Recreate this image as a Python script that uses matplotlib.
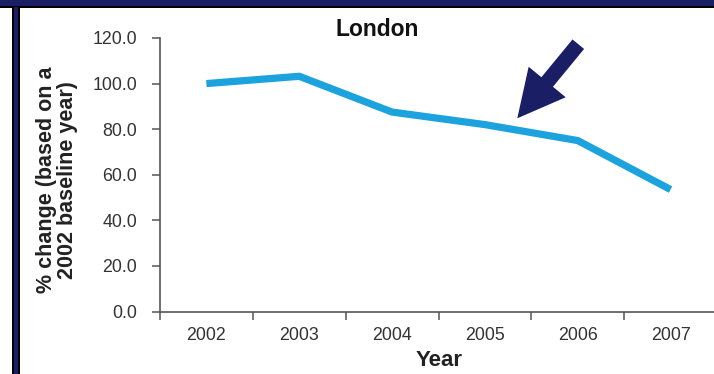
import matplotlib.pyplot as plt
from matplotlib.patches import Rectangle, FancyArrow
from matplotlib.transforms import IdentityTransform
import numpy as np

years = ['2002', '2003', '2004', '2005', '2006', '2007']
pct_change = [100.0, 103.2, 87.5, 82.0, 75.0, 53.5]
y_ticks = [0, 20, 40, 60, 80, 100, 120]

W, H = 714, 374
navy = '#1a1e64'
line_blue = '#1ca2dc'

plt.rcParams['font.family'] = ['Liberation Sans', 'DejaVu Sans']

fig = plt.figure(figsize=(W / 100, H / 100), dpi=100)
fig.patch.set_facecolor('white')

# axes in pixel terms: left 160, right runs past the edge, y 38..311.5
ax = fig.add_axes([160 / W, (H - 311.5) / H, (717 - 160) / W, (311.5 - 38) / H])
x = np.arange(len(years))
ax.plot(x, pct_change, color=line_blue, lw=5.2, solid_capstyle='butt',
        solid_joinstyle='miter', clip_on=False)

ax.set_xlim(-0.5, len(years) - 0.5)
ax.set_ylim(0, 120)
ax.set_yticks(y_ticks)
ax.set_yticklabels([f'{v:.1f}' for v in y_ticks])

# category axis: tick marks between years, labels at the centres
ax.set_xticks(np.arange(-0.5, len(years), 1.0))
ax.set_xticklabels([])
ax.set_xticks(x, minor=True)
ax.set_xticklabels(years, minor=True)
ax.tick_params(axis='x', which='major', direction='out', length=6, width=1.1, color='#555555')
ax.tick_params(axis='x', which='minor', length=0, pad=11.5, labelsize=12.8, labelcolor='#333333')
ax.tick_params(axis='y', direction='out', length=6, width=1.1, color='#555555',
               pad=10.5, labelsize=12.8, labelcolor='#333333')

for side in ['top', 'right']:
    ax.spines[side].set_visible(False)
for side in ['left', 'bottom']:
    ax.spines[side].set_color('#555555')
    ax.spines[side].set_linewidth(1.2)

fig.text(377 / W, 1 - 30 / H, 'London', ha='center', va='center',
         fontsize=16.5, fontweight='bold', color='#111111')
fig.text(57 / W, 1 - 180 / H, '% change (based on a\n2002 baseline year)',
         rotation=90, ha='center', va='center', multialignment='center',
         fontsize=15.5, fontweight='bold', color='#222222', linespacing=1.0)
fig.text(439 / W, 1 - 360 / H, 'Year', ha='center', va='center',
         fontsize=16, fontweight='bold', color='#222222')

# frame: navy band on top, navy bar down the left
px = IdentityTransform()
fig.add_artist(Rectangle((0, H - 7), W, 7, transform=px, facecolor=navy, edgecolor='none'))
fig.add_artist(Rectangle((0, H - 7.5), W, 1.8, transform=px, facecolor='black', edgecolor='none'))
fig.add_artist(Rectangle((12, 0), 7.5, H - 7, transform=px, facecolor=navy, edgecolor='none'))
fig.add_artist(Rectangle((12, 0), 1.6, H - 7, transform=px, facecolor='black', edgecolor='none'))
fig.add_artist(Rectangle((18, 0), 1.5, H - 7, transform=px, facecolor='black', edgecolor='none'))

# pointer arrow
tail = (578.3, H - 44.2)
tip = (517.3, H - 118.3)
fig.add_artist(FancyArrow(tail[0], tail[1], tip[0] - tail[0], tip[1] - tail[1],
                          width=15, head_width=48, head_length=47,
                          length_includes_head=True, transform=px,
                          facecolor=navy, edgecolor='none'))

fig.savefig('out.png', dpi=100)
